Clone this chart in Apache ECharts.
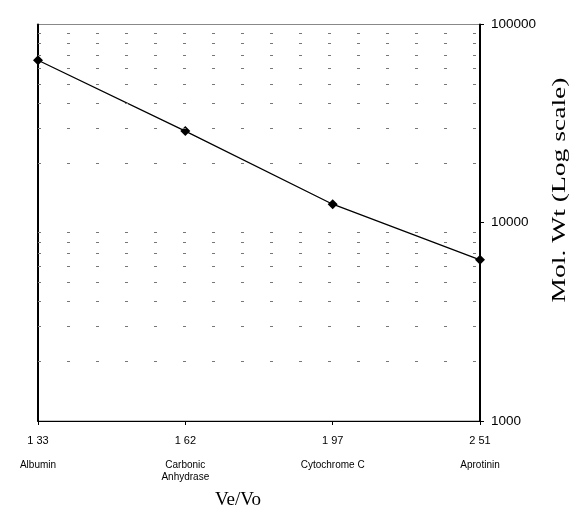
<!DOCTYPE html>
<html>
<head>
<meta charset="utf-8">
<script src="https://cdn.jsdelivr.net/npm/echarts@6/dist/echarts.min.js"></script>
<style>
html,body{margin:0;padding:0;background:#fff;}
#chart{width:582px;height:529px;}
</style>
</head>
<body>
<div id="chart"></div>
<script>
var veVo = ['1 33', '1 62', '1 97', '2 51'];
var proteins = ['Albumin', 'Carbonic\nAnhydrase', 'Cytochrome C', 'Aprotinin'];
var molWt = [66000, 29000, 12400, 6500];
var gridValues = [2000, 3000, 4000, 5000, 6000, 7000, 8000, 9000,
                  20000, 30000, 40000, 50000, 60000, 70000, 80000, 90000];

var chart = echarts.init(document.getElementById('chart'), null, {renderer: 'canvas'});
var cats = veVo.map(function (v, i) { return v + '\n' + proteins[i]; });

chart.setOption({
  backgroundColor: '#fff',
  animation: false,
  grid: {left: 38, right: 102, top: 24.5, bottom: 108, show: true,
         borderColor: '#888', borderWidth: 1},
  xAxis: {
    type: 'category', data: cats, boundaryGap: false,
    axisLine: {lineStyle: {color: '#000', width: 1}},
    axisTick: {show: true, length: 4, lineStyle: {color: '#000'}},
    axisLabel: {
      margin: 14,
      formatter: function (val) {
        var p = val.split('\n');
        var s = '{v|' + p[0] + '}';
        for (var k = 1; k < p.length; k++) s += '\n{n|' + p[k] + '}';
        return s;
      },
      rich: {
        v: {fontFamily: 'Liberation Sans', fontSize: 11, color: '#000', lineHeight: 24, verticalAlign: 'top'},
        n: {fontFamily: 'Liberation Sans', fontSize: 10, color: '#000', lineHeight: 12}
      }
    },
    name: 'Ve/Vo', nameLocation: 'middle', nameGap: 70,
    nameTextStyle: {fontFamily: 'Liberation Serif', fontSize: 19, color: '#000', padding: [0, 42, 0, 0]}
  },
  yAxis: [{
    type: 'log', logBase: 10, min: 1000, max: 100000, position: 'right',
    axisLine: {show: true, lineStyle: {color: '#000', width: 2}},
    axisTick: {show: true, length: 4, lineStyle: {color: '#000'}},
    axisLabel: {fontFamily: 'Liberation Sans', fontSize: 13.5, color: '#000', margin: 11,
                formatter: function (v) { return String(Math.round(v)); }},
    splitLine: {show: false}
  }, {
    type: 'log', logBase: 10, min: 1000, max: 100000, position: 'left',
    axisLine: {show: true, lineStyle: {color: '#000', width: 2}},
    axisTick: {show: false}, axisLabel: {show: false}, splitLine: {show: false}
  }],
  graphic: [{
    type: 'text', x: 560, y: 190, rotation: Math.PI / 2, scaleX: 1.45,
    style: {text: 'Mol. Wt (Log scale)', font: '19px "Liberation Serif"', fill: '#000',
            textAlign: 'center', textVerticalAlign: 'middle'}
  }],
  series: [{
    type: 'line', data: molWt, yAxisIndex: 0,
    symbol: 'diamond', symbolSize: 10,
    itemStyle: {color: '#000'},
    lineStyle: {color: '#000', width: 1.3},
    markLine: {
      silent: true, symbol: 'none', label: {show: false},
      lineStyle: {color: '#777', width: 1, type: [3, 26]},
      data: gridValues.map(function (g) { return {yAxis: g}; })
    }
  }]
});
</script>
</body>
</html>
